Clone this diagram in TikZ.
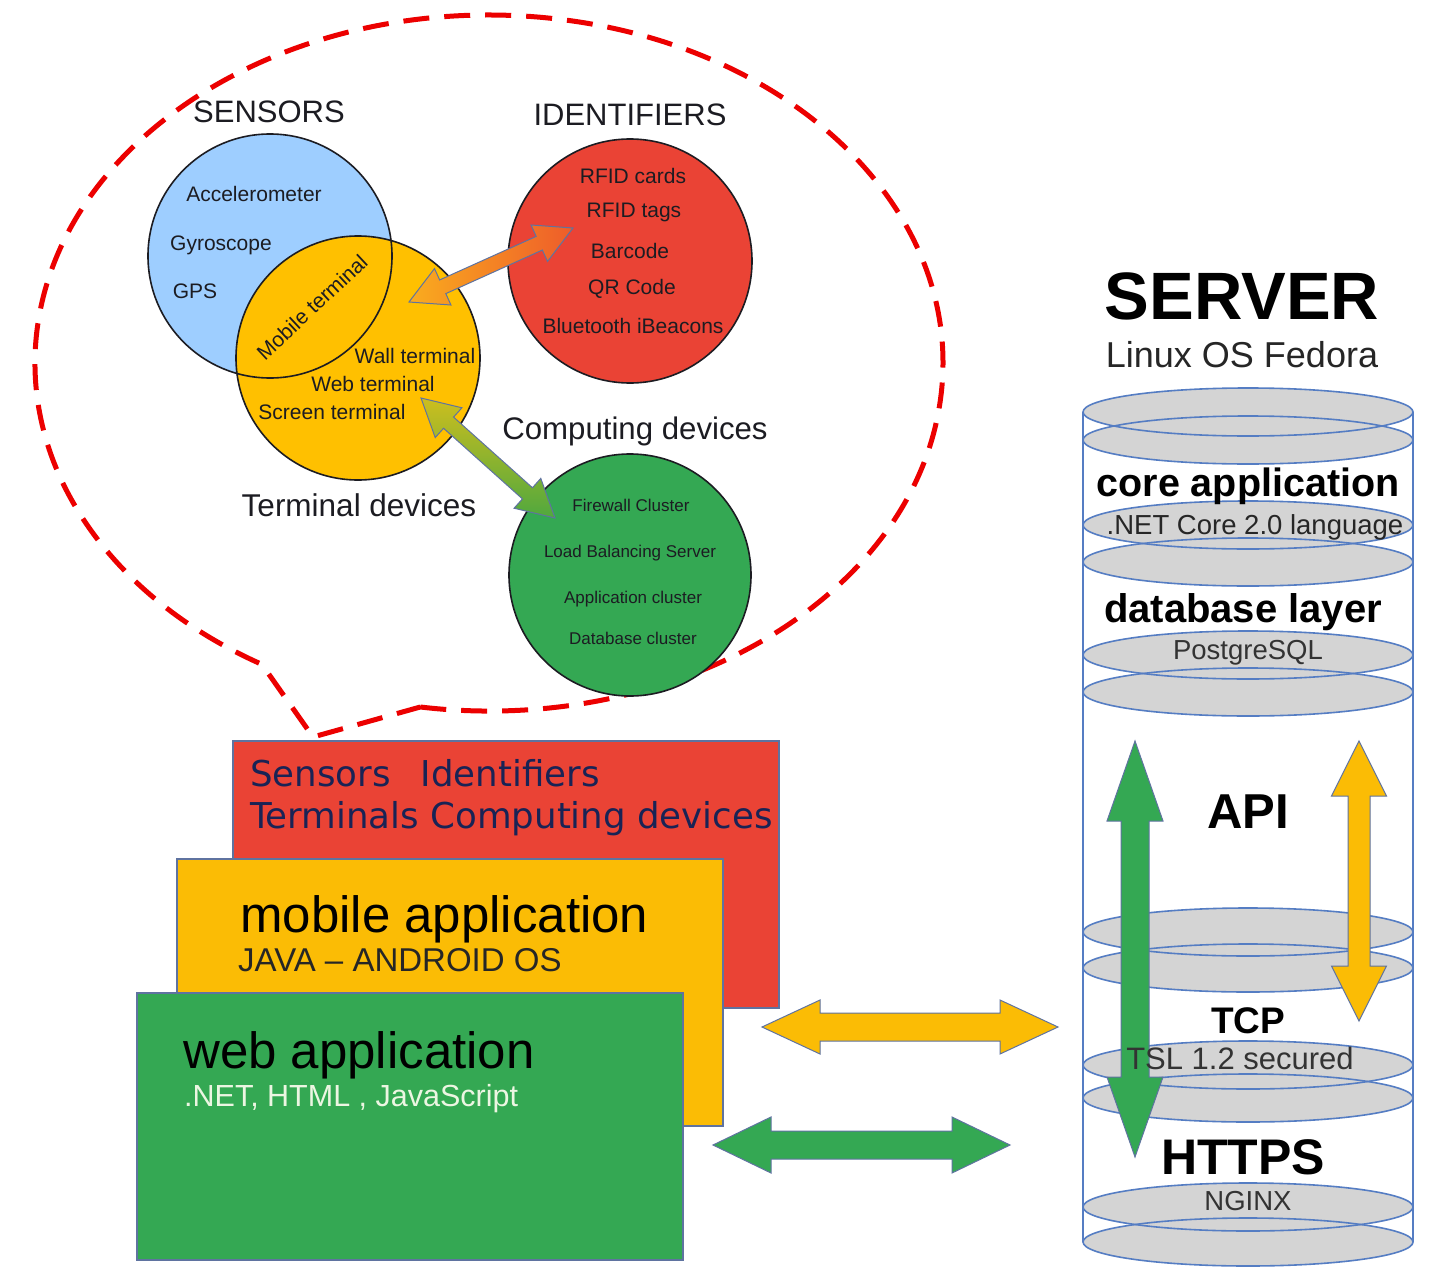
\documentclass[tikz,border=0pt]{standalone}
\usepackage{fontspec}
\setmainfont{Liberation Sans}
\newfontfamily\dejavu{DejaVu Sans}
\usetikzlibrary{calc}
\definecolor{skyC}{RGB}{158,206,255}
\definecolor{yelC}{RGB}{255,192,0}
\definecolor{redC}{RGB}{234,67,53}
\definecolor{grnC}{RGB}{52,168,83}
\definecolor{boxY}{RGB}{251,188,5}
\definecolor{navyC}{RGB}{25,35,85}
\definecolor{edgeC}{RGB}{95,115,160}
\definecolor{cylE}{RGB}{85,125,195}
\definecolor{cylF}{RGB}{212,212,212}
\definecolor{dashR}{RGB}{236,0,0}
\definecolor{orgA}{RGB}{250,172,30}
\definecolor{orgB}{RGB}{238,92,42}
\definecolor{olvA}{RGB}{205,190,30}
\definecolor{olvB}{RGB}{80,168,62}
\definecolor{webT}{RGB}{236,246,226}
\definecolor{inkC}{RGB}{28,28,34}
\newcommand\fs[1]{\fontsize{#1}{#1}\selectfont}
\newcommand\fatarrow[6]{%
  \path[#1] (#2)
    -- ($(#2)!#6!(#3)!#5!90:(#3)$)
    -- ($(#2)!#6!(#3)!#4!90:(#3)$)
    -- ($(#3)!#6!(#2)!#4!-90:(#2)$)
    -- ($(#3)!#6!(#2)!#5!-90:(#2)$)
    -- (#3)
    -- ($(#3)!#6!(#2)!#5!90:(#2)$)
    -- ($(#3)!#6!(#2)!#4!90:(#2)$)
    -- ($(#2)!#6!(#3)!#4!-90:(#3)$)
    -- ($(#2)!#6!(#3)!#5!-90:(#3)$)
    -- cycle;}
\tikzset{
  tx/.style={inner sep=0, anchor=base, text=inkC},
  txw/.style={inner sep=0, anchor=base west},
  vennfill/.style={circle, minimum size=244, inner sep=0},
  vennedge/.style={circle, minimum size=244, inner sep=0, draw=inkC, line width=1.6},
  callout/.style={draw=dashR, line width=5, dash pattern=on 26 off 15},
  stackbox/.style={anchor=north west, minimum width=546, minimum height=267, inner sep=0, draw=edgeC, line width=1.5},
  disk/.style={fill=cylF},
  diskedge/.style={draw=cylE, line width=1.6},
  fatedge/.style={draw=edgeC, line width=1},
}
\begin{document}
\begin{tikzpicture}[x=1pt,y=-1pt]
\useasboundingbox[fill=white] (0,0) rectangle (1435,1279);

% ---------- callout ----------
\coordinate (calR) at (420.3,707);
\coordinate (calTip) at (313,737);
\draw[callout] (calR) arc[start angle=98.7, end angle=-240, x radius=454, y radius=348] -- (calTip) -- cycle;

% ---------- Venn ----------
\node[vennfill, fill=skyC] (sens) at (270,256) {};
\node[vennfill, fill=yelC] (term) at (358,358) {};
\node[vennedge] (sensedge) at (sens) {};
\node[vennedge] (termedge) at (term) {};
\node[vennfill, fill=redC, draw=inkC, line width=1.6] (ident) at (630,261) {};
\node[vennfill, fill=grnC, draw=inkC, line width=1.6, minimum size=242] (comp) at (630,575) {};

\node[tx, font=\fs{31}] (tSens) at (269,123) {SENSORS};
\node[tx, font=\fs{31}] (tIdent) at (630,126) {IDENTIFIERS};
\node[tx, font=\fs{21}] (tAcc) at (254,201) {Accelerometer};
\node[tx, font=\fs{21}] (tGyr) at (221,250) {Gyroscope};
\node[tx, font=\fs{21}] (tGps) at (195,298) {GPS};
\node[inner sep=0, text=inkC, font=\fs{21}, rotate=43] (tMob) at (312,307) {Mobile terminal};
\node[tx, font=\fs{21}] (tWall) at (415,363) {Wall terminal};
\node[tx, font=\fs{21}] (tWeb) at (373,391) {Web terminal};
\node[tx, font=\fs{21}] (tScr) at (332,419) {Screen terminal};
\node[tx, font=\fs{31.5}] (tTermDev) at (359,516) {Terminal devices};
\node[tx, font=\fs{21}] (tR1) at (633,183) {RFID cards};
\node[tx, font=\fs{21}] (tR2) at (634,217) {RFID tags};
\node[tx, font=\fs{21}] (tR3) at (630,258) {Barcode};
\node[tx, font=\fs{21}] (tR4) at (632,294) {QR Code};
\node[tx, font=\fs{21}] (tR5) at (633,333) {Bluetooth iBeacons};
\node[tx, font=\fs{31.2}] (tCompDev) at (635,439) {Computing devices};
\node[tx, font=\fs{17}] (tG1) at (631,511) {Firewall Cluster};
\node[tx, font=\fs{17}] (tG2) at (630,557) {Load Balancing Server};
\node[tx, font=\fs{17}] (tG3) at (633,603) {Application cluster};
\node[tx, font=\fs{17}] (tG4) at (633,644) {Database cluster};

\coordinate (oA) at (409,302);
\coordinate (oB) at (573,228);
\fatarrow{fatedge, left color=orgA, right color=orgB}{oA}{oB}{7.5pt}{20pt}{37pt}
\coordinate (gA) at (421,398);
\coordinate (gB) at (555,518);
\fatarrow{fatedge, top color=olvA, bottom color=olvB}{gA}{gB}{7.5pt}{20pt}{37pt}

% ---------- stacked boxes ----------
\node[stackbox, fill=redC] (redbox) at (232,740) {};
\node[txw, text=navyC, font=\dejavu\fs{35.6}] (tS1) at (250,786) {Sensors\hspace{30pt}Identifiers};
\node[txw, text=navyC, font=\dejavu\fs{35.6}] (tS2) at (250,828) {Terminals Computing devices};
\node[stackbox, fill=boxY] (yelbox) at (176,858) {};
\node[txw, text=black, font=\fs{51}] (tMob1) at (240,932) {mobile application};
\node[txw, text=black!85, font=\fs{33}] (tMob2) at (238,971) {JAVA -- ANDROID OS};
\node[stackbox, fill=grnC] (grnbox) at (136,992) {};
\node[txw, text=black, font=\fs{51}] (tWeb1) at (183,1068) {web application};
\node[txw, text=webT, font=\fs{30.5}] (tWeb2) at (184,1106) {.NET, HTML , JavaScript};

% ---------- horizontal arrows ----------
\coordinate (hyA) at (762,1027);
\coordinate (hyB) at (1058,1027);
\fatarrow{fatedge, fill=boxY}{hyA}{hyB}{14pt}{27pt}{58pt}
\coordinate (hgA) at (713,1145);
\coordinate (hgB) at (1010,1145);
\fatarrow{fatedge, fill=grnC}{hgA}{hgB}{14pt}{28pt}{58pt}

% ---------- server cylinder ----------
\coordinate (cylTL) at (1083,412);
\coordinate (cylBL) at (1083,1242);
\coordinate (cylTR) at (1413,412);
\coordinate (cylBR) at (1413,1242);
\draw[diskedge] (cylTL) -- (cylBL);
\draw[diskedge] (cylTR) -- (cylBR);
\foreach \yy in {412,440,525,562,655,692,932,968,1065,1098,1207,1242}
  \path[disk] (1248,\yy) ellipse[x radius=165, y radius=24];
\foreach \yy in {412,440,525,562,655,692,932,968,1065,1098,1207,1242}
  \path[diskedge] (1248,\yy) ellipse[x radius=165, y radius=24];

\node[tx, font=\bfseries\fs{67}, text=black] (tServer) at (1242,319) {SERVER};
\node[tx, font=\fs{36}, text=black!85] (tLinux) at (1242,367) {Linux OS Fedora};
\node[tx, font=\bfseries\fs{39.5}, text=black] (tCore) at (1248,496) {core application};
\node[tx, font=\fs{27.5}, text=black!85] (tNet) at (1255,534) {.NET Core 2.0 language};
\node[tx, font=\bfseries\fs{40}, text=black] (tDb) at (1243,622) {database layer};
\node[tx, font=\fs{27.5}, text=black!80] (tPg) at (1248,659) {PostgreSQL};

\coordinate (vgA) at (1135,741);
\coordinate (vgB) at (1135,1157);
\fatarrow{fatedge, fill=grnC}{vgA}{vgB}{14pt}{28pt}{80pt}
\coordinate (vyA) at (1359,741);
\coordinate (vyB) at (1359,1021);
\fatarrow{fatedge, fill=boxY}{vyA}{vyB}{11pt}{27.5pt}{55pt}

\node[tx, font=\bfseries\fs{49}, text=black] (tApi) at (1248,828) {API};
\node[tx, font=\bfseries\fs{37}, text=black] (tTcp) at (1248,1033) {TCP};
\node[tx, font=\fs{31}, text=black!80] (tTsl) at (1240,1069) {TSL 1.2 secured};
\node[tx, font=\bfseries\fs{50}, text=black] (tHttps) at (1243,1174) {HTTPS};
\node[tx, font=\fs{27.5}, text=black!80] (tNginx) at (1248,1210) {NGINX};
\end{tikzpicture}
\end{document}
